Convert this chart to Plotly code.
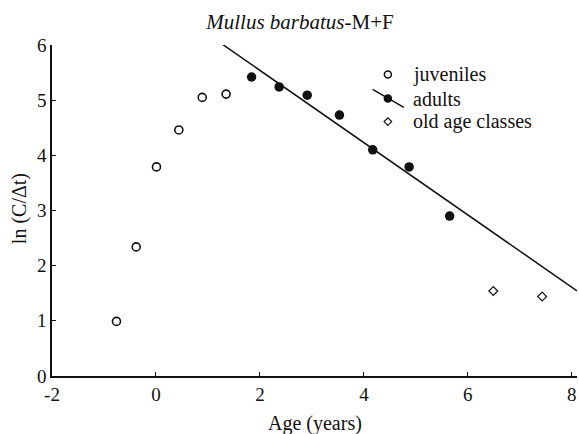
import plotly.graph_objects as go

# ---- data ----
juv_age = [-0.76, -0.38, 0.01, 0.44, 0.89, 1.35]
juv_ln = [0.99, 2.34, 3.79, 4.46, 5.05, 5.11]

adult_age = [1.84, 2.37, 2.91, 3.53, 4.17, 4.87, 5.65]
adult_ln = [5.42, 5.24, 5.09, 4.73, 4.10, 3.79, 2.90]

old_age = [6.49, 7.43]
old_ln = [1.54, 1.44]

fit_intercept = 6.85
fit_slope = -0.655
fit_age = [1.26, 8.1]
fit_ln = [fit_intercept + fit_slope * a for a in fit_age]

x_ticks = [-2, 0, 2, 4, 6, 8]
x_tick_text = ["-2", "0", "2", "4", "6", "8"]
y_ticks = [0, 1, 2, 3, 4, 5, 6]

legend_labels = ["juveniles", "adults", "old age classes"]

# ---- geometry helpers (pixel -> paper) ----
W, H = 579, 434
L, R, T, B = 52.0, 577.2, 45.0, 375.7


def px(p):
    return (p - L) / (R - L)


def py(p):
    return (B - p) / (B - T)


FONT = "Liberation Serif"
INK = "#111111"

fig = go.Figure()

fig.add_trace(go.Scatter(x=fit_age, y=fit_ln, mode="lines",
                         line=dict(color=INK, width=1.5), hoverinfo="skip",
                         showlegend=False))
fig.add_trace(go.Scatter(x=juv_age, y=juv_ln, mode="markers", name=legend_labels[0],
                         marker=dict(symbol="circle-open", size=8, color=INK,
                                     line=dict(width=1.6, color=INK)),
                         showlegend=False))
fig.add_trace(go.Scatter(x=adult_age, y=adult_ln, mode="markers", name=legend_labels[1],
                         marker=dict(symbol="circle", size=9.5, color=INK),
                         showlegend=False))
fig.add_trace(go.Scatter(x=old_age, y=old_ln, mode="markers", name=legend_labels[2],
                         marker=dict(symbol="diamond-open", size=6.8, color=INK,
                                     line=dict(width=1.2, color=INK)),
                         showlegend=False))

# ---- custom legend drawn on an overlay paper-like axis ----
leg_x = px(388)
leg_y = [py(74.5), py(98.5), py(121.5)]
fig.add_trace(go.Scatter(x=[px(372.7), px(404)], y=[py(89.3), py(107.3)],
                         mode="lines", line=dict(color=INK, width=1.5),
                         xaxis="x2", yaxis="y2", hoverinfo="skip", showlegend=False))
fig.add_trace(go.Scatter(x=[leg_x], y=[leg_y[0]], mode="markers",
                         marker=dict(symbol="circle-open", size=7, color=INK,
                                     line=dict(width=1.5, color=INK)),
                         xaxis="x2", yaxis="y2", hoverinfo="skip", showlegend=False))
fig.add_trace(go.Scatter(x=[leg_x], y=[leg_y[1]], mode="markers",
                         marker=dict(symbol="circle", size=8.5, color=INK),
                         xaxis="x2", yaxis="y2", hoverinfo="skip", showlegend=False))
fig.add_trace(go.Scatter(x=[leg_x], y=[leg_y[2]], mode="markers",
                         marker=dict(symbol="diamond-open", size=5.8, color=INK,
                                     line=dict(width=1.2, color=INK)),
                         xaxis="x2", yaxis="y2", hoverinfo="skip", showlegend=False))

annotations = []
for lab, yy in zip(legend_labels, leg_y):
    annotations.append(dict(text=lab, x=px(411.5), y=yy, xref="paper", yref="paper",
                            xanchor="left", yanchor="middle", showarrow=False,
                            font=dict(family=FONT, size=20, color=INK)))

annotations.append(dict(text="Age (years)", x=0.5, y=py(423), xref="paper", yref="paper",
                        xanchor="center", yanchor="middle", showarrow=False,
                        font=dict(family=FONT, size=20, color=INK)))
annotations.append(dict(text="ln (C/\u0394t)", x=px(19), y=py(209), xref="paper", yref="paper",
                        xanchor="center", yanchor="middle", showarrow=False, textangle=-90,
                        font=dict(family=FONT, size=20, color=INK)))

fig.update_layout(
    width=W, height=H,
    margin=dict(l=L, r=W - R, t=T, b=H - B, pad=0),
    paper_bgcolor="white", plot_bgcolor="white",
    font=dict(family=FONT, size=19, color=INK),
    title=dict(text="<i>Mullus barbatus</i>-M+F", x=300 / W, xanchor="center",
               y=1 - 22 / H, yanchor="middle", xref="container", yref="container",
               font=dict(family=FONT, size=21, color=INK)),
    xaxis=dict(range=[-2, 8.1], tickvals=x_ticks, ticktext=x_tick_text,
               ticks="inside", ticklen=4,
               tickwidth=1.2, tickcolor=INK, showline=True, linecolor=INK, linewidth=1.5,
               showgrid=False, zeroline=False,
               tickfont=dict(family=FONT, size=19, color=INK),
               fixedrange=True),
    yaxis=dict(range=[0, 6], tickvals=y_ticks, ticks="inside", ticklen=4,
               tickwidth=1.2, tickcolor=INK, showline=True, linecolor=INK, linewidth=1.5,
               showgrid=False, zeroline=False,
               tickfont=dict(family=FONT, size=19, color=INK),
               fixedrange=True),
    xaxis2=dict(range=[0, 1], overlaying="x", visible=False, fixedrange=True),
    yaxis2=dict(range=[0, 1], overlaying="y", visible=False, fixedrange=True),
    annotations=annotations,
    showlegend=False,
)

fig.write_html("out.html", config={"displayModeBar": False},
               post_script="document.body.style.margin='0';document.body.style.overflow='hidden';")
